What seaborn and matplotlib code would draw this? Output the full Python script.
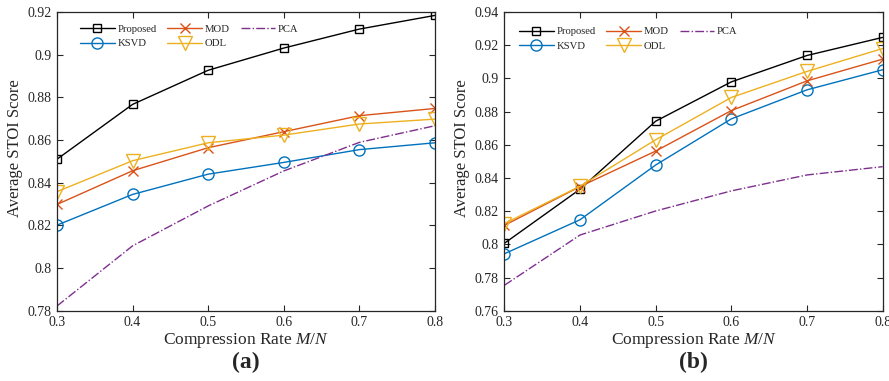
import numpy as np
import pandas as pd
import seaborn as sns
import matplotlib
matplotlib.use("Agg")
import matplotlib.pyplot as plt
from matplotlib.ticker import FuncFormatter

# ---- data ----
rates = [0.3, 0.4, 0.5, 0.6, 0.7, 0.8]
methods = ["Proposed", "KSVD", "MOD", "ODL", "PCA"]

a_proposed = [0.851, 0.8767, 0.8927, 0.9031, 0.912, 0.9184]
a_ksvd = [0.8201, 0.8345, 0.844, 0.8495, 0.8555, 0.8587]
a_mod = [0.8298, 0.8456, 0.8564, 0.8639, 0.8714, 0.8748]
a_odl = [0.8358, 0.8503, 0.8587, 0.8623, 0.8675, 0.8698]
a_pca = [0.7822, 0.8104, 0.8291, 0.8455, 0.8589, 0.8667]

b_proposed = [0.8006, 0.8332, 0.8742, 0.8979, 0.9138, 0.9247]
b_ksvd = [0.7943, 0.8148, 0.8478, 0.8756, 0.8931, 0.9052]
b_mod = [0.8114, 0.8348, 0.8562, 0.8806, 0.8985, 0.9116]
b_odl = [0.8125, 0.8350, 0.8630, 0.8885, 0.9042, 0.9180]
b_pca = [0.7753, 0.8056, 0.8201, 0.8322, 0.8418, 0.8468]

panel_labels = ["(a)", "(b)"]
xlabel = "Compression Rate $\\it{M/N}$"
ylabel = "Average STOI Score"

colors = {"Proposed": "#000000", "KSVD": "#0072BD", "MOD": "#D95319",
          "ODL": "#EDB120", "PCA": "#7E2F8E"}
markers = {"Proposed": "s", "KSVD": "o", "MOD": "x", "ODL": "v", "PCA": None}
msizes = {"Proposed": 6.2, "KSVD": 8, "MOD": 6.5, "ODL": 10.5, "PCA": 0}
styles = {"Proposed": "-", "KSVD": "-", "MOD": "-", "ODL": "-", "PCA": "-."}

panels = [
    dict(data={"Proposed": a_proposed, "KSVD": a_ksvd, "MOD": a_mod, "ODL": a_odl, "PCA": a_pca},
         ylim=(0.78, 0.92), yticks=np.arange(0.78, 0.9201, 0.02), leg=(0.061, 0.958)),
    dict(data={"Proposed": b_proposed, "KSVD": b_ksvd, "MOD": b_mod, "ODL": b_odl, "PCA": b_pca},
         ylim=(0.76, 0.94), yticks=np.arange(0.76, 0.9401, 0.02), leg=(0.039, 0.950)),
]

sns.set_theme(style="ticks")
plt.rcParams["font.family"] = ["Liberation Serif", "DejaVu Serif"]
plt.rcParams["mathtext.fontset"] = "custom"
plt.rcParams["mathtext.it"] = "Liberation Serif:italic"
plt.rcParams["mathtext.rm"] = "Liberation Serif"

fig = plt.figure(figsize=(8.89, 3.81), dpi=100)
axes_pos = [[0.0641, 0.1845, 0.4252, 0.784], [0.5673, 0.1845, 0.4256, 0.784]]

fmt = FuncFormatter(lambda v, p: ("%g" % round(v, 4)))

for pos, panel, plab in zip(axes_pos, panels, panel_labels):
    ax = fig.add_axes(pos)
    for m in methods:
        df = pd.DataFrame({"rate": rates, "score": panel["data"][m]})
        sns.lineplot(data=df, x="rate", y="score", ax=ax, color=colors[m],
                     linestyle=styles[m], linewidth=1.0,
                     marker=markers[m] if markers[m] else "",
                     markersize=msizes[m], markerfacecolor="none",
                     markeredgecolor=colors[m], markeredgewidth=1.0,
                     label=m, legend=False)
    ax.set_xlim(0.3, 0.8)
    ax.set_ylim(*panel["ylim"])
    ax.set_xticks(rates)
    ax.set_yticks(panel["yticks"])
    ax.xaxis.set_major_formatter(fmt)
    ax.yaxis.set_major_formatter(fmt)
    ax.tick_params(direction="in", top=True, right=True, labelsize=10, length=4,
                   width=0.8, colors="#262626", labelcolor="#262626", pad=4)
    for s in ax.spines.values():
        s.set_visible(True)
        s.set_linewidth(0.9)
        s.set_color("#262626")
    ax.set_xlabel(xlabel, fontsize=12.5)
    ax.xaxis.set_label_coords(0.5, -0.068)
    ax.set_ylabel(ylabel, fontsize=12)
    ax.yaxis.set_label_coords(-0.09, 0.545)
    handles = ax.get_lines()[:5]
    ax.legend(handles, methods, ncol=3, frameon=False, loc="upper left",
              bbox_to_anchor=panel["leg"], fontsize=7.7, handlelength=3.25,
              columnspacing=1.0, labelspacing=0.45, handletextpad=0.25,
              borderpad=0, borderaxespad=0)
    ax.text(0.5, -0.138, plab, transform=ax.transAxes, ha="center", va="top",
            fontsize=17, fontweight="bold")

fig.savefig("out.png", dpi=100)
